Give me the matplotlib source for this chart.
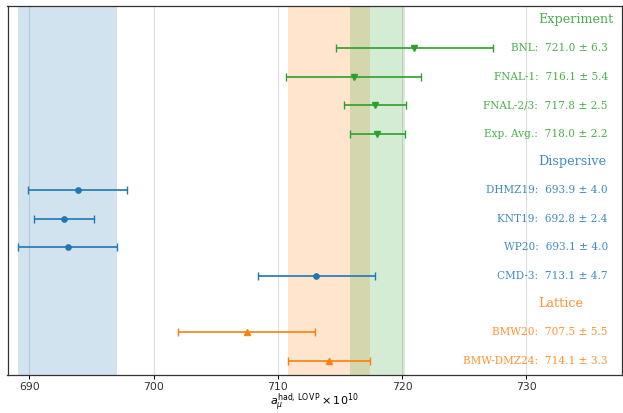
import matplotlib
matplotlib.use("Agg")
import matplotlib.pyplot as plt
import matplotlib.transforms as mtransforms

groups = ["Experiment", "Dispersive", "Lattice"]
group_colors = ["tab:green", "tab:blue", "tab:orange"]
group_markers = ["v", "o", "^"]

exp_names = ["BNL", "FNAL-1", "FNAL-2/3", "Exp. Avg."]
exp_vals = [721.0, 716.1, 717.8, 718.0]
exp_errs = [6.3, 5.4, 2.5, 2.2]

disp_names = ["DHMZ19", "KNT19", "WP20", "CMD-3"]
disp_vals = [693.9, 692.8, 693.1, 713.1]
disp_errs = [4.0, 2.4, 4.0, 4.7]

lat_names = ["BMW20", "BMW-DMZ24"]
lat_vals = [707.5, 714.1]
lat_errs = [5.5, 3.3]

# bands: (center, err, group index)
band_centers = [693.1, 714.1, 718.0]
band_errs = [4.0, 3.3, 2.2]
band_groups = [1, 2, 0]

fig = plt.figure(figsize=(6.23, 4.13), dpi=100)
ax = fig.add_axes([7.5 / 623, 1 - 375 / 413, (622 - 7.5) / 623, (375 - 5.7) / 413])

for c, e, g in zip(band_centers, band_errs, band_groups):
    ax.axvspan(c - e, c + e, color=group_colors[g], alpha=0.2, lw=0, zorder=1)

trans = mtransforms.blended_transform_factory(ax.transAxes, ax.transData)
data = [(exp_names, exp_vals, exp_errs), (disp_names, disp_vals, disp_errs), (lat_names, lat_vals, lat_errs)]
row = 0
for gi, (names, vals, errs) in enumerate(data):
    col = group_colors[gi]
    ax.text(0.863, row, groups[gi], transform=trans, ha="left", va="center",
            color=col, alpha=0.85, fontsize=9.2, family="DejaVu Serif")
    row += 1
    for n, v, e in zip(names, vals, errs):
        ax.errorbar(v, row, xerr=e, fmt=group_markers[gi], color=col, ms=3.8,
                    capsize=2.6, elinewidth=1.2, capthick=1.0, zorder=3)
        ax.text(0.977, row, f"{n}:  {v:.1f} ± {e:.1f}", transform=trans, ha="right",
                va="center", color=col, alpha=0.85, fontsize=7.6, family="DejaVu Serif")
        row += 1

ax.set_xlim(688.25, 737.7)
ax.set_ylim(12.5, -0.5)
ax.set_yticks([])
ax.set_xticks([690, 700, 710, 720, 730])
ax.grid(axis="x", color="#dddddd", lw=0.8, zorder=0)
ax.set_axisbelow(True)
ax.tick_params(axis="x", labelsize=7.8, length=3, width=0.7, pad=2, labelcolor="#333333")
for s in ax.spines.values():
    s.set_linewidth(0.9)
    s.set_color("#333333")
ax.set_xlabel(r"$a_\mu^{\rm had,\,LO\,VP}\times 10^{10}$", fontsize=8, labelpad=0)

fig.savefig("out.png", dpi=100)
